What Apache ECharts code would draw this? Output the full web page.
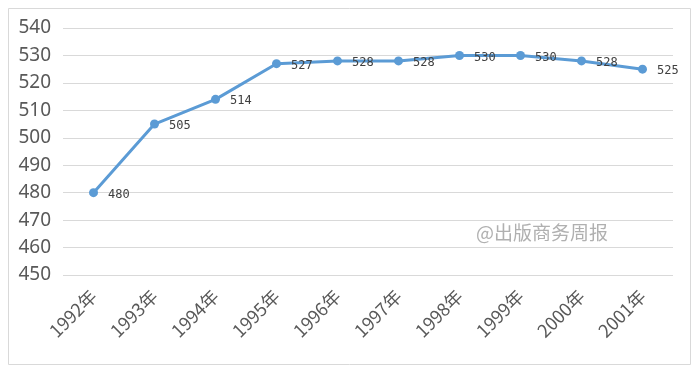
<!DOCTYPE html>
<html><head><meta charset="utf-8">
<script src="https://cdn.jsdelivr.net/npm/echarts@6/dist/echarts.min.js"></script>
<style>html,body{margin:0;padding:0;background:#fff}#c{width:700px;height:371px}</style>
</head><body><div id="c"></div>
<script>
const categories = ['1992年','1993年','1994年','1995年','1996年','1997年','1998年','1999年','2000年','2001年'];
const values = [480,505,514,527,528,528,530,530,528,525];
const yMin = 450, yMax = 540, yStep = 10;
const watermark = '@出版商务周报';

const chart = echarts.init(document.getElementById('c'));
chart.setOption({
  backgroundColor: '#fff',
  animation: false,
  graphic: [
    {type:'rect', shape:{x:8.5,y:8.5,width:682,height:356}, style:{fill:'none',stroke:'#d9d9d9',lineWidth:1}, z:-1},
    {type:'text', left:476, top:223, style:{text:watermark, fill:'#b0b0b0', font:'19px "Noto Sans CJK SC", sans-serif'}}
  ],
  grid: {left:63, right:27, top:28, bottom:96},
  xAxis: {
    type:'category', data:categories, boundaryGap:true,
    axisLine:{show:false}, axisTick:{show:false},
    axisLabel:{rotate:45, color:'#595959', fontSize:18, fontFamily:'"Noto Sans CJK SC", sans-serif', margin:18, interval:0}
  },
  yAxis: {
    type:'value', min:yMin, max:yMax, interval:yStep,
    axisLine:{show:false}, axisTick:{show:false},
    axisLabel:{color:'#595959', fontSize:19, fontFamily:'"Noto Sans", sans-serif', margin:12},
    splitLine:{lineStyle:{color:'#d9d9d9', width:1}}
  },
  series: [{
    type:'line', data:values,
    symbol:'circle', symbolSize:9,
    lineStyle:{color:'#5B9BD5', width:3},
    itemStyle:{color:'#5B9BD5'},
    label:{show:true, position:'right', distance:10, offset:[0,2], color:'#404040', fontSize:12, fontFamily:'"DejaVu Sans Mono", monospace'}
  }]
});
</script></body></html>
